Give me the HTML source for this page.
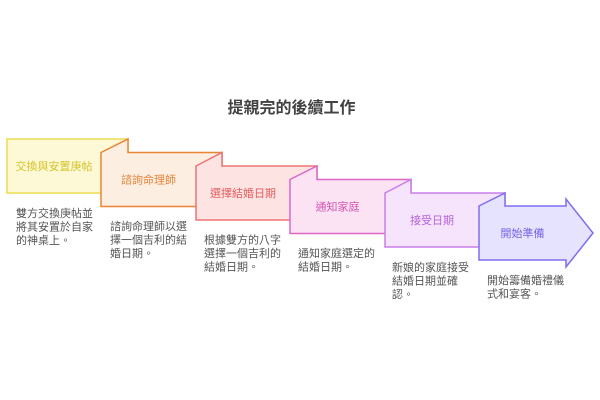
<!DOCTYPE html>
<html><head><meta charset="utf-8"><style>
html,body{margin:0;padding:0;background:#fff;}
svg{display:block;}
text{font-family:"Liberation Sans","Noto Sans CJK TC",sans-serif;}
.lbl{font-size:11px;text-anchor:middle;}
.d{font-size:11px;fill:#555;}
</style></head><body>
<svg width="600" height="400" viewBox="0 0 600 400" xmlns="http://www.w3.org/2000/svg">
<text x="291.5" y="113" font-size="16" font-weight="bold" fill="#424242" text-anchor="middle">提親完的後續工作</text>

<!-- Box 1 -->
<rect x="7" y="139" width="121" height="54" fill="#fdf9d6" stroke="#ecdc50" stroke-width="1.5"/>
<!-- Box 2 -->
<path d="M101,152.5 L128,139 L128,152.5 L222,152.5 L222,206.5 L101,206.5 Z" fill="#fdeee2" stroke="#ea8534" stroke-width="1.5" stroke-linejoin="miter"/>
<!-- Box 3 -->
<path d="M196,166 L222,152.5 L222,166 L317,166 L317,220 L196,220 Z" fill="#fde3e2" stroke="#ec7474" stroke-width="1.5"/>
<!-- Box 4 -->
<path d="M290,179.5 L317,166 L317,179.5 L411,179.5 L411,233.5 L290,233.5 Z" fill="#fce3f4" stroke="#dc68c6" stroke-width="1.5"/>
<!-- Box 5 -->
<path d="M385,193 L411,179.5 L411,193 L505,193 L505,247 L385,247 Z" fill="#f5e4fc" stroke="#c77ee8" stroke-width="1.5"/>
<!-- Box 6 arrow -->
<path d="M479,206 L505,193 L505,206 L566,206 L566,199 L593,233 L566,267 L566,260 L479,260 Z" fill="#e6e3fe" stroke="#7e6ef0" stroke-width="1.5"/>

<text class="lbl" x="54" y="170" fill="#d6c42a">交換與安置庚帖</text>
<text class="lbl" x="148.5" y="183.5" fill="#e4843a">諮詢命理師</text>
<text class="lbl" x="243" y="197" fill="#e45e5e">選擇結婚日期</text>
<text class="lbl" x="337.5" y="210.5" fill="#d454b4">通知家庭</text>
<text class="lbl" x="432" y="224" fill="#b664d8">接受日期</text>
<text class="lbl" x="522.5" y="237" fill="#7464e4">開始準備</text>

<text class="d" x="16" y="217">雙方交換庚帖並</text>
<text class="d" x="16" y="230.5">將其安置於自家</text>
<text class="d" x="16" y="244">的神桌上。</text>

<text class="d" x="110" y="230">諮詢命理師以選</text>
<text class="d" x="110" y="243.5">擇一個吉利的結</text>
<text class="d" x="110" y="257">婚日期。</text>

<text class="d" x="204" y="243.5">根據雙方的八字</text>
<text class="d" x="204" y="257">選擇一個吉利的</text>
<text class="d" x="204" y="270.5">結婚日期。</text>

<text class="d" x="298" y="257">通知家庭選定的</text>
<text class="d" x="298" y="270.5">結婚日期。</text>

<text class="d" x="392" y="271">新娘的家庭接受</text>
<text class="d" x="392" y="284.5">結婚日期並確</text>
<text class="d" x="392" y="298">認。</text>

<text class="d" x="487" y="284">開始籌備婚禮儀</text>
<text class="d" x="487" y="297.5">式和宴客。</text>
</svg>
</body></html>
